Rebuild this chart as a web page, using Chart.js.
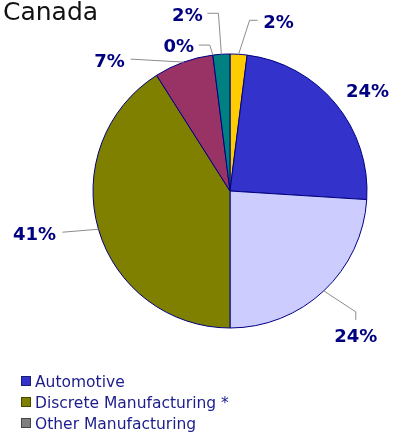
<!DOCTYPE html>
<html>
<head>
<meta charset="utf-8">
<script src="https://cdn.jsdelivr.net/npm/chart.js@4.4.1/dist/chart.umd.min.js"></script>
<style>
  html, body { margin: 0; padding: 0; background: #ffffff; }
  #wrap { width: 395px; height: 435px; position: relative; }
</style>
</head>
<body>
<div id="wrap"><canvas id="pie" width="395" height="435"></canvas></div>
<script>
// Industry shares for Canada, clockwise from twelve o'clock
const categories = ['', 'Automotive', '', 'Discrete Manufacturing *', '', 'Other Manufacturing', ''];
const shares = [2, 24, 24, 41, 7, 0, 2];
const sliceColors = ['#FFCC00', '#3333CC', '#CCCCFF', '#808000', '#993366', '#808080', '#008080'];
const chartTitle = 'Canada';

// Label placement per slice: label centre and leader bends, relative to the slice's outer mid-point
const labelSpots = [
  { label: [40, -32], bends: [[11, -34], [19, -34]] },
  { label: [32, -12], bends: [] },
  { label: [32, 45], bends: [[32, 21], [32, 29]] },
  { label: [-64, 5], bends: [[-36, 3]] },
  { label: [-74, -1], bends: [[-53, -3]] },
  { label: [-34, -9], bends: [[-3, -10], [-14, -10]] },
  { label: [-34, -39], bends: [[-3, -41], [-14, -41]] }
];

const pieLabels = {
  id: 'pieLabels',
  afterDatasetsDraw(chart) {
    const ctx = chart.ctx;
    const meta = chart.getDatasetMeta(0);
    ctx.save();
    meta.data.forEach((arc, i) => {
      const p = arc.getProps(['x', 'y', 'startAngle', 'endAngle', 'outerRadius'], true);
      const mid = (p.startAngle + p.endAngle) / 2;
      const ax = p.x + p.outerRadius * Math.cos(mid);
      const ay = p.y + p.outerRadius * Math.sin(mid);
      const spot = labelSpots[i];
      if (spot.bends.length) {
        ctx.beginPath();
        ctx.strokeStyle = '#8c8c8c';
        ctx.lineWidth = 1;
        ctx.moveTo(ax, ay);
        spot.bends.forEach(b => ctx.lineTo(ax + b[0], ay + b[1]));
        ctx.stroke();
      }
      ctx.fillStyle = '#000080';
      ctx.font = 'bold 18px "DejaVu Sans", Verdana, sans-serif';
      ctx.textAlign = 'center';
      ctx.textBaseline = 'middle';
      ctx.fillText(shares[i] + '%', ax + spot.label[0], ay + spot.label[1] + 1);
    });
    ctx.restore();
  }
};

const titleAndLegend = {
  id: 'titleAndLegend',
  afterDraw(chart) {
    const ctx = chart.ctx;
    ctx.save();
    ctx.fillStyle = '#111111';
    ctx.font = '25px "DejaVu Sans", Verdana, sans-serif';
    ctx.textAlign = 'left';
    ctx.textBaseline = 'alphabetic';
    ctx.fillText(chartTitle, 3, 20);

    let y = 376;
    ctx.font = '15.5px "DejaVu Sans", Verdana, sans-serif';
    categories.forEach((name, i) => {
      if (!name) return;
      ctx.fillStyle = sliceColors[i];
      ctx.fillRect(21, y, 10, 10);
      ctx.strokeStyle = 'rgba(0,0,0,0.45)';
      ctx.lineWidth = 1;
      ctx.strokeRect(21.5, y + 0.5, 9, 9);
      ctx.fillStyle = '#1c1c8c';
      ctx.fillText(name, 35, y + 10.5);
      y += 21;
    });
    ctx.restore();
  }
};

new Chart(document.getElementById('pie'), {
  type: 'pie',
  data: {
    labels: categories,
    datasets: [{
      data: shares,
      backgroundColor: sliceColors,
      borderColor: '#000080',
      borderWidth: 1
    }]
  },
  options: {
    responsive: false,
    animation: false,
    radius: 137,
    layout: { padding: { left: 65, right: 0, top: 0, bottom: 53 } },
    plugins: {
      legend: { display: false },
      title: { display: false },
      tooltip: { enabled: false }
    }
  },
  plugins: [pieLabels, titleAndLegend]
});
</script>
</body>
</html>
